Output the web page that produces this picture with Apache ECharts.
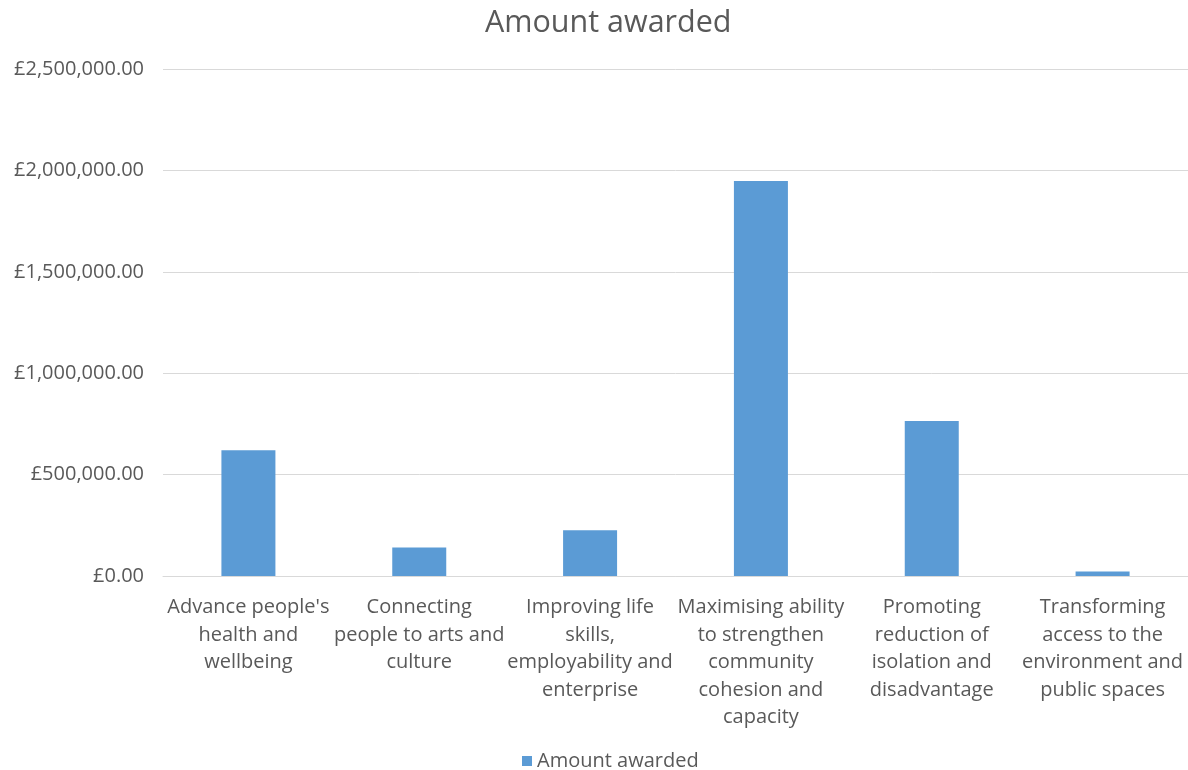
<!DOCTYPE html>
<html>
<head>
<meta charset="utf-8">
<script src="https://cdn.jsdelivr.net/npm/echarts@6/dist/echarts.min.js"></script>
<style>
  html, body { margin: 0; padding: 0; background: #fff; }
  #chart { width: 1188px; height: 770px; }
</style>
</head>
<body>
<div id="chart"></div>
<script>
// Funding themes (line breaks follow the printed wrapping)
const categories = [
  "Advance people's\nhealth and\nwellbeing",
  "Connecting\npeople to arts and\nculture",
  "Improving life\nskills,\nemployability and\nenterprise",
  "Maximising ability\nto strengthen\ncommunity\ncohesion and\ncapacity",
  "Promoting\nreduction of\nisolation and\ndisadvantage",
  "Transforming\naccess to the\nenvironment and\npublic spaces"
];
// Amount awarded per theme (GBP)
const amountAwarded = [620000, 141000, 225000, 1948000, 764000, 22000];
const seriesName = "Amount awarded";
const yTicks = [0, 500000, 1000000, 1500000, 2000000, 2500000];

const font = "'Open Sans', sans-serif";
const textColor = "#595959";

function gbp(v) {
  return "£" + v.toLocaleString("en-GB", { minimumFractionDigits: 2, maximumFractionDigits: 2 });
}

const chart = echarts.init(document.getElementById("chart"), null, { renderer: "canvas" });
chart.setOption({
  animation: false,
  backgroundColor: "#ffffff",
  title: {
    text: "Amount awarded",
    left: 480,
    top: 3,
    textStyle: { color: textColor, fontFamily: font, fontSize: 30.5, fontWeight: "normal" }
  },
  legend: {
    top: 746,
    left: 517,
    itemWidth: 10,
    itemHeight: 10,
    itemGap: 8,
    icon: "rect",
    textStyle: { color: textColor, fontFamily: font, fontSize: 20 },
    data: [seriesName]
  },
  grid: { left: 163, right: 0, top: 69, bottom: 194, containLabel: false },
  xAxis: {
    type: "category",
    data: categories,
    axisLine: { lineStyle: { color: "#d9d9d9" } },
    axisTick: { show: false },
    axisLabel: {
      interval: 0,
      color: textColor,
      fontFamily: font,
      fontSize: 20,
      lineHeight: 27.5,
      margin: 18
    }
  },
  yAxis: {
    type: "value",
    min: yTicks[0],
    max: yTicks[yTicks.length - 1],
    interval: yTicks[1] - yTicks[0],
    axisLine: { show: false },
    axisTick: { show: false },
    splitLine: { lineStyle: { color: "#d9d9d9", width: 1 } },
    axisLabel: {
      color: textColor,
      fontFamily: font,
      fontSize: 20,
      margin: 19,
      formatter: gbp
    }
  },
  series: [{
    name: seriesName,
    type: "bar",
    data: amountAwarded,
    barWidth: 54,
    itemStyle: { color: "#5b9bd5" }
  }]
});
</script>
</body>
</html>
